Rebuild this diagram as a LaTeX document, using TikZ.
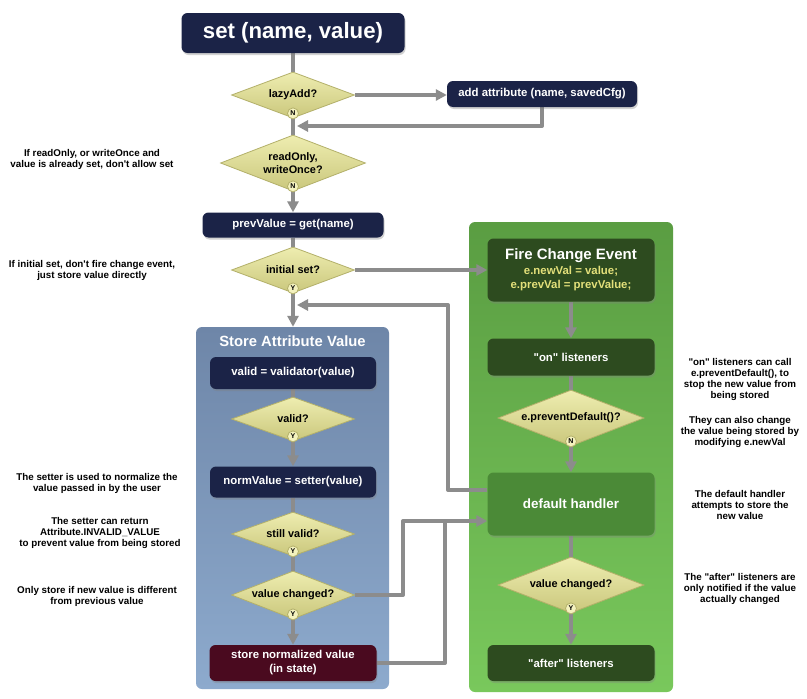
\documentclass[tikz,border=0pt]{standalone}
\usepackage{fontspec}
\setmainfont{Liberation Sans}[Ligatures=TeXOff]
\usetikzlibrary{shapes.geometric,arrows.meta,shadows,calc}
\pgfdeclarelayer{panel}
\pgfdeclarelayer{conns}
\pgfsetlayers{panel,conns,main}
\definecolor{navy}{HTML}{1B2347}
\definecolor{maroon}{HTML}{4A0A1F}
\definecolor{dgreen}{HTML}{2D4B1F}
\definecolor{mgreen}{HTML}{4B8A37}
\definecolor{ytext}{HTML}{E3E07A}
\definecolor{linegray}{HTML}{8C8C8C}
\definecolor{diaA}{HTML}{EEEDB0}
\definecolor{diaB}{HTML}{CAC77C}
\definecolor{diaE}{HTML}{B3B06A}
\definecolor{blueA}{HTML}{6E86A8}
\definecolor{blueB}{HTML}{8DAACD}
\definecolor{greenA}{HTML}{5A9D42}
\definecolor{greenB}{HTML}{79C85C}
\definecolor{badgeF}{HTML}{F4F2BE}
\tikzset{
  conn/.style={draw=linegray, line width=4pt, line join=round},
  tip/.style={-{Triangle[length=11pt,width=11pt]}},
  boxbase/.style={rectangle, rounded corners=6pt, text=white, font=\bfseries\fontsize{11.4}{13}\selectfont,
    align=center, inner sep=2pt,
    drop shadow={opacity=0.35, shadow xshift=1pt, shadow yshift=-2pt}},
  navybox/.style={boxbase, fill=navy},
  maroonbox/.style={boxbase, fill=maroon},
  dgbox/.style={boxbase, fill=dgreen},
  mgbox/.style={boxbase, fill=mgreen},
  decision/.style={diamond, aspect=2.6, inner sep=0pt, top color=diaA, bottom color=diaB,
    draw=diaE, line width=0.8pt, text=black, align=center,
    font=\bfseries\fontsize{10.9}{12.5}\selectfont},
  badge/.style={circle, minimum size=11pt, inner sep=0pt, fill=badgeF, draw=diaE, line width=0.8pt,
    font=\bfseries\fontsize{7}{7}\selectfont, text=black},
  panelbox/.style={rectangle, rounded corners=6pt, inner sep=0pt},
  paneltitle/.style={text=white, font=\bfseries\fontsize{14.8}{16}\selectfont},
  annot/.style={align=center, text=black, font=\bfseries\fontsize{9.8}{11}\selectfont}
}
\begin{document}
\begin{tikzpicture}[x=1pt,y=-1pt]
\useasboundingbox (0,0) rectangle (807,699);

% panels
\begin{pgfonlayer}{panel}
\fill[white] (0,0) rectangle (807,699);
\node[panelbox, top color=blueA, bottom color=blueB, minimum width=193pt, minimum height=362pt] (storeP) at (292.5,508) {};
\node[panelbox, top color=greenA, bottom color=greenB, minimum width=204pt, minimum height=470pt] (fireP) at (571,457) {};
\end{pgfonlayer}
\node[paneltitle] (storeT) at (292.5,341) {Store Attribute Value};

% main column
\node[navybox, minimum width=223pt, minimum height=40pt, font=\bfseries\fontsize{22.2}{25}\selectfont] (set) at (293,33) {set (name, value)};
\node[decision, minimum width=123pt, minimum height=46pt] (lazy) at (293,95) {lazyAdd?};
\node[navybox, minimum width=190pt, minimum height=26pt] (add) at (542,94) {add attribute (name, savedCfg)};
\node[decision, minimum width=145pt, minimum height=56pt] (ro) at (293,163) {readOnly,\\writeOnce?};
\node[navybox, minimum width=181pt, minimum height=25pt] (prev) at (293,225) {prevValue = get(name)};
\node[decision, minimum width=123pt, minimum height=46pt] (init) at (293,270) {initial set?};

% store panel content
\node[navybox, minimum width=166pt, minimum height=32pt] (valid) at (293,373) {valid = validator(value)};
\node[decision, minimum width=123pt, minimum height=44pt] (validq) at (293,419) {valid?};
\node[navybox, minimum width=166pt, minimum height=31pt] (norm) at (293,482) {normValue = setter(value)};
\node[decision, minimum width=123pt, minimum height=44pt] (stillq) at (293,534) {still valid?};
\node[decision, minimum width=123pt, minimum height=48pt] (vcq) at (293,595) {value changed?};
\node[maroonbox, minimum width=167pt, minimum height=36pt, font=\bfseries\fontsize{11.4}{14}\selectfont] (stv) at (293,663) {store normalized value\\(in state)};

% fire panel content
\node[dgbox, minimum width=167pt, minimum height=63pt, font=\bfseries\fontsize{11.4}{14.5}\selectfont] (fire) at (571,270)
  {{\fontsize{15}{18}\selectfont Fire Change Event}\\{\color{ytext}e.newVal = value;}\\{\color{ytext}e.prevVal = prevValue;}};
\node[dgbox, minimum width=167pt, minimum height=37pt] (on) at (571,357) {"on" listeners};
\node[decision, minimum width=146pt, minimum height=56pt] (pd) at (571,418) {e.preventDefault()?};
\node[mgbox, minimum width=167pt, minimum height=63pt, font=\bfseries\fontsize{13.4}{15}\selectfont] (dh) at (571,504) {default handler};
\node[decision, minimum width=146pt, minimum height=56pt] (vc2) at (571,585) {value changed?};
\node[dgbox, minimum width=167pt, minimum height=36pt] (after) at (571,663) {"after" listeners};

% badges
\node[badge] (bLazy) at ([yshift=5pt]lazy.south) {N};
\node[badge] (bRo) at ([yshift=5pt]ro.south) {N};
\node[badge] (bInit) at ([yshift=5pt]init.south) {Y};
\node[badge] (bValid) at ([yshift=5pt]validq.south) {Y};
\node[badge] (bStill) at ([yshift=5pt]stillq.south) {Y};
\node[badge] (bVc) at ([yshift=5pt]vcq.south) {Y};
\node[badge] (bPd) at ([yshift=5pt]pd.south) {N};
\node[badge] (bVc2) at ([yshift=5pt]vc2.south) {Y};

% helper coordinates
\coordinate (m1) at (297,126);
\coordinate (r1) at (448,305);
\coordinate (r2) at (297,305);
\coordinate (j1) at (403,521);
\coordinate (j2) at (445,521);

% connectors
\begin{pgfonlayer}{conns}
\draw[conn] (set.south) -- (lazy.north);
\draw[conn,tip] (lazy.east) -- (lazy.east -| add.west);
\draw[conn,tip] (add.south) |- (m1);
\draw[conn] (lazy.south) -- (ro.north);
\draw[conn,tip] (ro.south) -- (prev.north);
\draw[conn] (prev.south) -- (init.north);
\draw[conn,tip] (init.east) -- (init.east -| fire.west);
\draw[conn,tip] (init.south) -- (init.south |- storeP.north);
\draw[conn,tip] ($(dh.west)+(0,-14)$) -| (r1) -- (r2);
\draw[conn] (valid.south) -- (validq.north);
\draw[conn,tip] (validq.south) -- (norm.north);
\draw[conn] (norm.south) -- (stillq.north);
\draw[conn] (stillq.south) -- (vcq.north);
\draw[conn,tip] (vcq.south) -- (stv.north);
\draw[conn,tip] (vcq.east) -| (j1) -- ($(dh.west)+(0,17)$);
\draw[conn] (stv.east) -| (j2);
\draw[conn,tip] (fire.south) -- (on.north);
\draw[conn] (on.south) -- (pd.north);
\draw[conn,tip] (pd.south) -- (dh.north);
\draw[conn] (dh.south) -- (vc2.north);
\draw[conn,tip] (vc2.south) -- (after.north);
\end{pgfonlayer}

% annotations
\node[annot] (a1) at (92,159) {If readOnly, or writeOnce and\\value is already set, don't allow set};
\node[annot] (a2) at (92,270) {If initial set, don't fire change event,\\just store value directly};
\node[annot] (a3) at (97,483) {The setter is used to normalize the\\value passed in by the user};
\node[annot] (a4) at (100,533) {The setter can return\\Attribute.INVALID\_VALUE\\to prevent value from being stored};
\node[annot] (a5) at (97,596) {Only store if new value is different\\from previous value};
\node[annot] (a6) at (740,379) {"on" listeners can call\\e.preventDefault(), to\\stop the new value from\\being stored};
\node[annot] (a7) at (740,432) {They can also change\\the value being stored by\\modifying e.newVal};
\node[annot] (a8) at (740,505) {The default handler\\attempts to store the\\new value};
\node[annot] (a9) at (740,589) {The "after" listeners are\\only notified if the value\\actually changed};
\end{tikzpicture}
\end{document}
